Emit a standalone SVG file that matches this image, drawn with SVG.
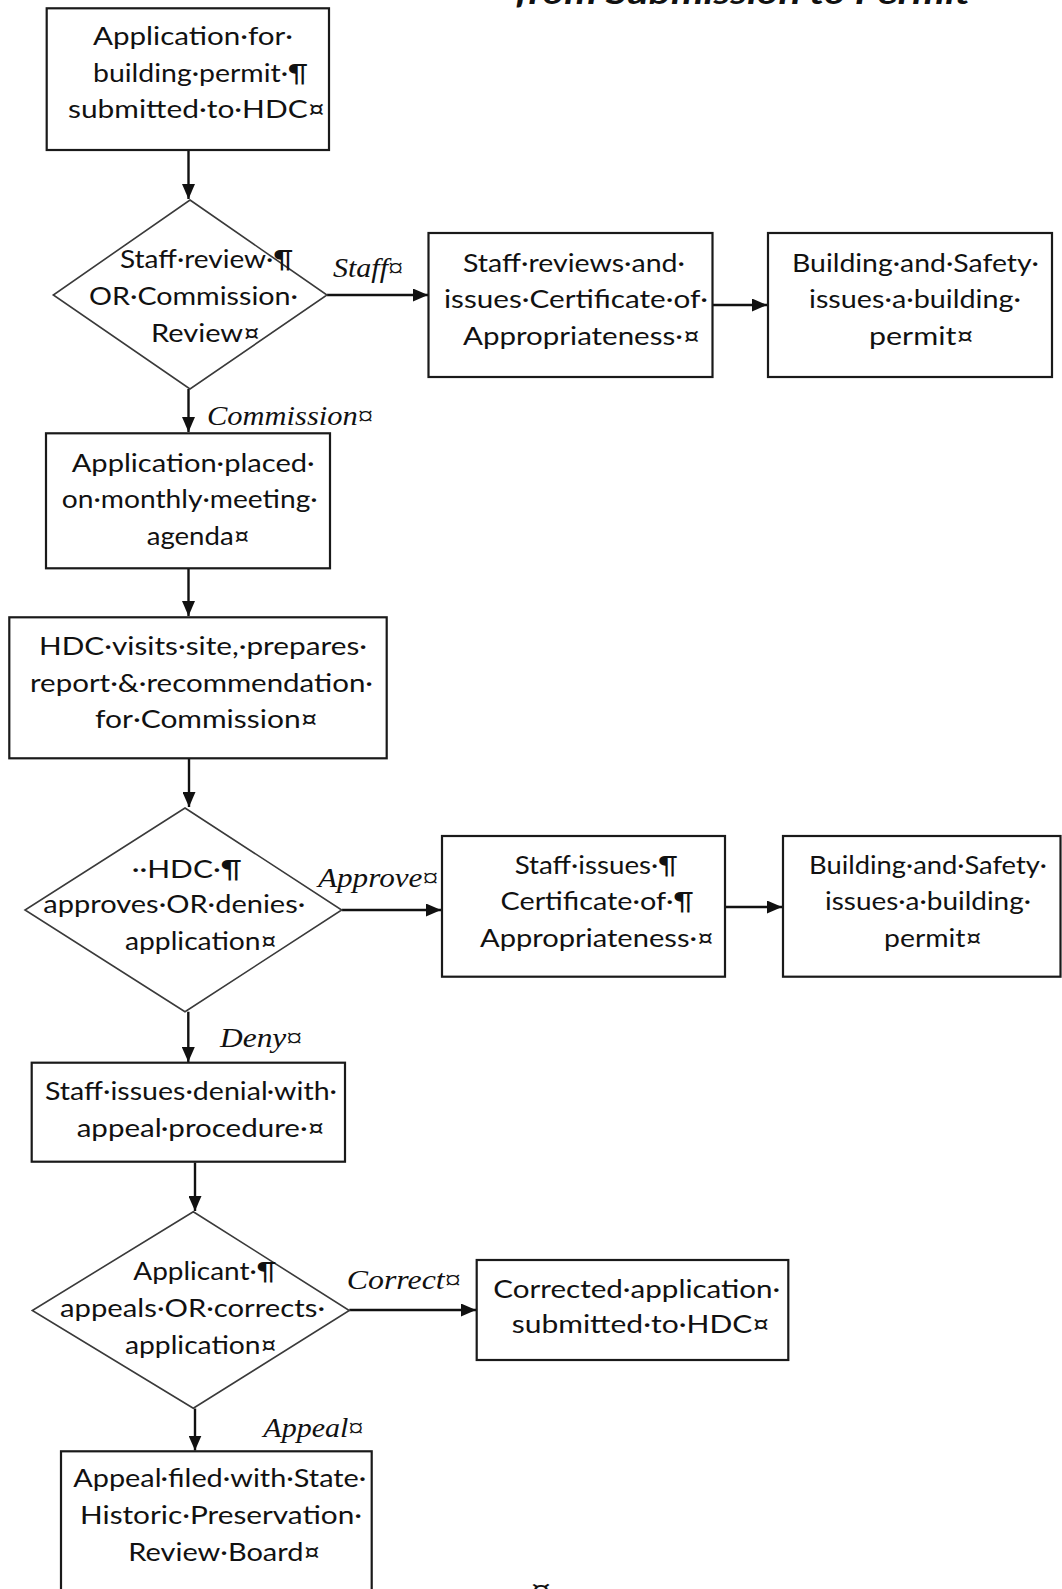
<svg xmlns="http://www.w3.org/2000/svg" width="1062" height="1589" viewBox="0 0 1062 1589">
<defs>
<style>
.box{fill:#fff;stroke:#1a1a1a;stroke-width:2.2}
.dia{fill:#fff;stroke:#3a3a3a;stroke-width:1.6}
.t{font-family:Lato,"Open Sans","DejaVu Sans",sans-serif;font-size:25px;fill:#111}
.lab{font-family:"Liberation Serif","DejaVu Serif",serif;font-style:italic;font-size:28px;fill:#111}
.title{font-family:Lato,"Open Sans",sans-serif;font-style:italic;font-weight:bold;font-size:30px;fill:#111}
.c{fill:none;stroke:#111;stroke-width:2.4}
</style>
<marker id="ah" viewBox="0 0 15 13" refX="15" refY="6.5" markerWidth="15" markerHeight="13" markerUnits="userSpaceOnUse" orient="auto">
<path d="M0,0 L15,6.5 L0,13 z" fill="#111"/>
</marker>
</defs>
<rect width="1062" height="1589" fill="#fff"/>

<text class="title" x="515" y="4" textLength="455" lengthAdjust="spacingAndGlyphs">from Submission to Permit</text>

<g id="connectors">
<line class="c" x1="188.5" y1="151" x2="188.5" y2="199" marker-end="url(#ah)"/>
<line class="c" x1="327" y1="295" x2="428" y2="295" marker-end="url(#ah)"/>
<line class="c" x1="713" y1="305" x2="767" y2="305" marker-end="url(#ah)"/>
<line class="c" x1="188.5" y1="389" x2="188.5" y2="432" marker-end="url(#ah)"/>
<line class="c" x1="188.5" y1="569" x2="188.5" y2="616" marker-end="url(#ah)"/>
<line class="c" x1="189" y1="759" x2="189" y2="807" marker-end="url(#ah)"/>
<line class="c" x1="341.7" y1="910" x2="441" y2="910" marker-end="url(#ah)"/>
<line class="c" x1="725.5" y1="907" x2="782" y2="907" marker-end="url(#ah)"/>
<line class="c" x1="188.3" y1="1011.7" x2="188.3" y2="1062" marker-end="url(#ah)"/>
<line class="c" x1="195" y1="1162.5" x2="195" y2="1211" marker-end="url(#ah)"/>
<line class="c" x1="349.3" y1="1310" x2="476" y2="1310" marker-end="url(#ah)"/>
<line class="c" x1="195" y1="1408.5" x2="195" y2="1450.5" marker-end="url(#ah)"/>
<text class="lab" x="333" y="277" textLength="70" lengthAdjust="spacingAndGlyphs">Staff¤</text>
<text class="lab" x="207" y="425" textLength="166" lengthAdjust="spacingAndGlyphs">Commission¤</text>
<text class="lab" x="318" y="886.7" textLength="120" lengthAdjust="spacingAndGlyphs">Approve¤</text>
<text class="lab" x="220" y="1046.7" textLength="82" lengthAdjust="spacingAndGlyphs">Deny¤</text>
<text class="lab" x="346.7" y="1289" textLength="114" lengthAdjust="spacingAndGlyphs">Correct¤</text>
<text class="lab" x="263.3" y="1437.3" textLength="100" lengthAdjust="spacingAndGlyphs">Appeal¤</text>
</g>

<g id="n1">
<rect class="box" x="46.7" y="8.3" width="282.3" height="141.7"/>
<text class="t" x="93" y="45" textLength="200" lengthAdjust="spacingAndGlyphs">Application·for·</text>
<text class="t" x="93" y="82" textLength="215" lengthAdjust="spacingAndGlyphs">building·permit·¶</text>
<text class="t" x="68" y="118" textLength="257" lengthAdjust="spacingAndGlyphs">submitted·to·HDC¤</text>
</g>

<g id="d1">
<polygon class="dia" points="190,200 327,295 190,389 53.3,295"/>
<text class="t" x="120" y="268" textLength="173" lengthAdjust="spacingAndGlyphs">Staff·review·¶</text>
<text class="t" x="89" y="305" textLength="209" lengthAdjust="spacingAndGlyphs">OR·Commission·</text>
<text class="t" x="151" y="342" textLength="109" lengthAdjust="spacingAndGlyphs">Review¤</text>
</g>

<g id="n2">
<rect class="box" x="428.5" y="233" width="284" height="144"/>
<text class="t" x="463" y="271.5" textLength="222" lengthAdjust="spacingAndGlyphs">Staff·reviews·and·</text>
<text class="t" x="444" y="308" textLength="264" lengthAdjust="spacingAndGlyphs">issues·Certificate·of·</text>
<text class="t" x="463" y="344.5" textLength="237" lengthAdjust="spacingAndGlyphs">Appropriateness·¤</text>
</g>

<g id="n3">
<rect class="box" x="768" y="233" width="284" height="144"/>
<text class="t" x="792" y="271.5" textLength="247" lengthAdjust="spacingAndGlyphs">Building·and·Safety·</text>
<text class="t" x="809" y="308" textLength="212" lengthAdjust="spacingAndGlyphs">issues·a·building·</text>
<text class="t" x="869" y="344.5" textLength="105" lengthAdjust="spacingAndGlyphs">permit¤</text>
</g>

<g id="n4">
<rect class="box" x="46" y="433.3" width="284" height="135"/>
<text class="t" x="71.7" y="471.7" textLength="243" lengthAdjust="spacingAndGlyphs">Application·placed·</text>
<text class="t" x="61.7" y="508.3" textLength="256" lengthAdjust="spacingAndGlyphs">on·monthly·meeting·</text>
<text class="t" x="146.7" y="545" textLength="103" lengthAdjust="spacingAndGlyphs">agenda¤</text>
</g>

<g id="n5">
<rect class="box" x="9.3" y="617.3" width="377.4" height="141"/>
<text class="t" x="39" y="655" textLength="328" lengthAdjust="spacingAndGlyphs">HDC·visits·site,·prepares·</text>
<text class="t" x="30" y="691.7" textLength="343" lengthAdjust="spacingAndGlyphs">report·&amp;·recommendation·</text>
<text class="t" x="95" y="728.3" textLength="223" lengthAdjust="spacingAndGlyphs">for·Commission¤</text>
</g>

<g id="d2">
<polygon class="dia" points="185,808 341.7,910 185,1011.7 25,910"/>
<text class="t" x="131.7" y="878.3" textLength="110" lengthAdjust="spacingAndGlyphs">··HDC·¶</text>
<text class="t" x="43.3" y="913.3" textLength="262" lengthAdjust="spacingAndGlyphs">approves·OR·denies·</text>
<text class="t" x="125" y="950" textLength="152" lengthAdjust="spacingAndGlyphs">application¤</text>
</g>

<g id="n6">
<rect class="box" x="442" y="836" width="283" height="140.7"/>
<text class="t" x="514.7" y="873.5" textLength="163" lengthAdjust="spacingAndGlyphs">Staff·issues·¶</text>
<text class="t" x="500.6" y="910" textLength="193" lengthAdjust="spacingAndGlyphs">Certificate·of·¶</text>
<text class="t" x="480" y="946.5" textLength="234" lengthAdjust="spacingAndGlyphs">Appropriateness·¤</text>
</g>

<g id="n7">
<rect class="box" x="783" y="836" width="277.5" height="140.7"/>
<text class="t" x="809" y="873.5" textLength="238" lengthAdjust="spacingAndGlyphs">Building·and·Safety·</text>
<text class="t" x="825" y="910" textLength="206" lengthAdjust="spacingAndGlyphs">issues·a·building·</text>
<text class="t" x="884" y="946.5" textLength="98" lengthAdjust="spacingAndGlyphs">permit¤</text>
</g>

<g id="n8">
<rect class="box" x="31.7" y="1062.7" width="313.3" height="99"/>
<text class="t" x="45" y="1100" textLength="292" lengthAdjust="spacingAndGlyphs">Staff·issues·denial·with·</text>
<text class="t" x="76.7" y="1136.7" textLength="248" lengthAdjust="spacingAndGlyphs">appeal·procedure·¤</text>
</g>

<g id="d3">
<polygon class="dia" points="193.3,1211.7 349.3,1310.5 193.3,1408.3 32.3,1310.5"/>
<text class="t" x="133.3" y="1279.7" textLength="143" lengthAdjust="spacingAndGlyphs">Applicant·¶</text>
<text class="t" x="60" y="1317.3" textLength="265" lengthAdjust="spacingAndGlyphs">appeals·OR·corrects·</text>
<text class="t" x="125" y="1354" textLength="152" lengthAdjust="spacingAndGlyphs">application¤</text>
</g>

<g id="n9">
<rect class="box" x="476.7" y="1260" width="311.6" height="100"/>
<text class="t" x="493.3" y="1298.3" textLength="287" lengthAdjust="spacingAndGlyphs">Corrected·application·</text>
<text class="t" x="511.7" y="1333.3" textLength="258" lengthAdjust="spacingAndGlyphs">submitted·to·HDC¤</text>
</g>

<g id="n10">
<rect class="box" x="61" y="1451.3" width="310.7" height="160"/>
<text class="t" x="73.3" y="1487.3" textLength="293" lengthAdjust="spacingAndGlyphs">Appeal·filed·with·State·</text>
<text class="t" x="80" y="1524" textLength="282" lengthAdjust="spacingAndGlyphs">Historic·Preservation·</text>
<text class="t" x="128.3" y="1560.7" textLength="192" lengthAdjust="spacingAndGlyphs">Review·Board¤</text>
</g>

<text class="t" x="530" y="1598" textLength="22" lengthAdjust="spacingAndGlyphs">¤</text>
</svg>
